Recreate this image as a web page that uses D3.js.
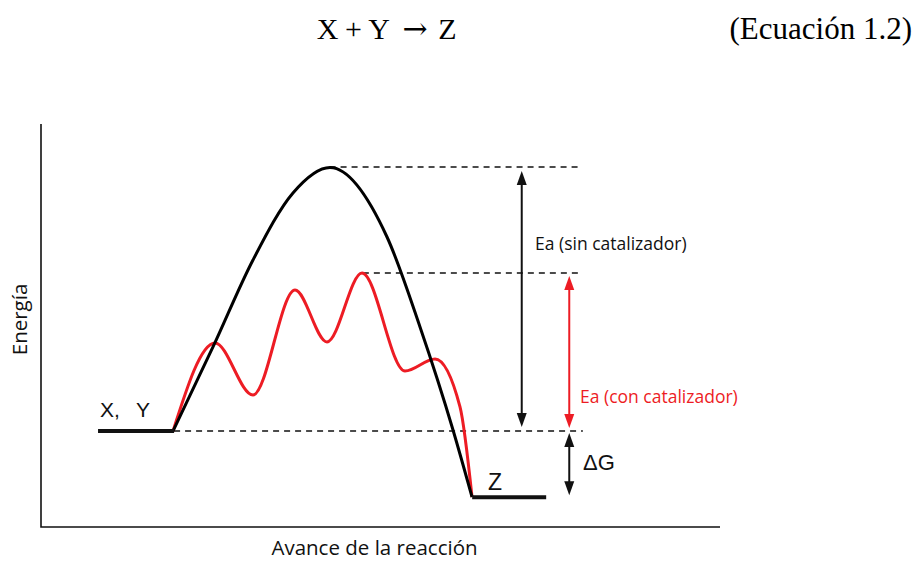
<!DOCTYPE html>
<html><head><meta charset="utf-8">
<script src="https://cdn.jsdelivr.net/npm/d3@7"></script>
<style>html,body{margin:0;padding:0;background:#fff;}svg{display:block;}</style>
</head><body>
<svg id="c" width="916" height="561"></svg>
<script>
// Reaction progress (0-100) vs energy (0-100), schematic values
const uncatalyzed = [
  [19.44,23.8],[25.33,44.67],[31.22,66.25],[37.11,82.88],[42.56,89.2],
  [50.96,71.96],[55.82,49.63],[60.68,24.07],[63.48,7.44]
];
const catalyzed = [
  [19.44,23.8],[25.63,45.66],[31.22,32.75],[37.41,58.81],[42.12,45.91],
  [47.28,63.0],[53.61,38.71],[58.03,41.69],[61.71,29.78],[63.48,7.44]
];
const reactantLevel = {x0:8.4, x1:19.6, e:23.8};
const productLevel = {x0:63.5, x1:74.4, e:7.4};
const peakUncat = {x:42.5, e:89.3};
const peakCat = {x:47.4, e:63.0};
const guideEnd = 79.8;
const arrowX = {sin:70.8, con:77.8, dG:77.8};
const labels = {
  eq:"(Ecuaci\u00f3n 1.2)",
  yAxis:"Energ\u00eda", xAxis:"Avance de la reacci\u00f3n",
  prod:"Z", sin:"Ea (sin catalizador)", con:"Ea (con catalizador)", dG:"\u0394G"
};
const reactParts = [["X,",100],["Y",136]];
const titleParts = [["X",327.5],["+",353.5],["Y",379],["\u2192",415],["Z",447.5]];
const RED = "#ed1c24";

const svg = d3.select("#c");
const x = d3.scaleLinear().domain([0,100]).range([41,720]);
const y = d3.scaleLinear().domain([0,100]).range([527,124]);

const serif = "Liberation Serif, Times New Roman, serif";
// title
svg.selectAll("text.tp").data(titleParts).join("text").attr("class","tp")
  .attr("x",d=>d[1]).attr("y",39).attr("text-anchor","middle")
  .attr("font-family",d=> d[0]==="\u2192" ? "DejaVu Serif, serif" : serif)
  .attr("font-size",30).attr("fill","#000").text(d=>d[0]);
svg.append("text").attr("x",912).attr("y",39).attr("text-anchor","end")
  .attr("font-family",serif).attr("font-size",31).text(labels.eq);

// axes
svg.append("path").attr("d",`M${x(0)},${y(100)}V${y(0)}H${x(100)}`)
  .attr("stroke","#111").attr("stroke-width",1.6).attr("fill","none");

const sans = "Open Sans, Noto Sans, sans-serif";
const arial = "Liberation Sans, Arial, sans-serif";
svg.append("text").attr("transform",`translate(27,${y(51.5)}) rotate(-90)`).attr("text-anchor","middle")
  .attr("font-family",sans).attr("font-size",20.5).attr("fill","#111").text(labels.yAxis);
svg.append("text").attr("x",374.5).attr("y",555).attr("text-anchor","middle")
  .attr("font-family",sans).attr("font-size",20.5).attr("fill","#111").text(labels.xAxis);

// dashed guides
const dash = svg.append("g").attr("stroke","#111").attr("stroke-width",1.5).attr("stroke-dasharray","6,5");
dash.append("line").attr("x1",x(peakUncat.x)).attr("x2",x(guideEnd-0.6)).attr("y1",y(peakUncat.e)).attr("y2",y(peakUncat.e));
dash.append("line").attr("x1",x(peakCat.x)).attr("x2",x(guideEnd)).attr("y1",y(peakCat.e)).attr("y2",y(peakCat.e));
dash.append("line").attr("x1",x(reactantLevel.x1)).attr("x2",x(guideEnd)).attr("y1",y(reactantLevel.e)).attr("y2",y(reactantLevel.e));

// curves
const line = d3.line().x(d=>x(d[0])).y(d=>y(d[1])).curve(d3.curveMonotoneX);
svg.append("path").datum(catalyzed).attr("d",line).attr("fill","none").attr("stroke",RED).attr("stroke-width",3).attr("stroke-linejoin","round");
svg.append("path").datum(uncatalyzed).attr("d",line).attr("fill","none").attr("stroke","#000").attr("stroke-width",3).attr("stroke-linejoin","round");

// levels
svg.append("line").attr("x1",x(reactantLevel.x0)).attr("x2",x(reactantLevel.x1)).attr("y1",y(reactantLevel.e)).attr("y2",y(reactantLevel.e))
  .attr("stroke","#111").attr("stroke-width",4);
svg.append("line").attr("x1",x(productLevel.x0)).attr("x2",x(productLevel.x1)).attr("y1",y(productLevel.e)).attr("y2",y(productLevel.e))
  .attr("stroke","#111").attr("stroke-width",4);

svg.selectAll("text.rp").data(reactParts).join("text").attr("class","rp")
  .attr("x",d=>d[1]).attr("y",417).attr("font-family",arial).attr("font-size",21).attr("fill","#111").text(d=>d[0]);
svg.append("text").attr("x",488).attr("y",490).attr("font-family",arial).attr("font-size",23).attr("fill","#111").text(labels.prod);

// double arrows
function dArrow(xv, e0, e1, color, gap){
  const px = x(xv), ya = y(e0)+gap, yb = y(e1)-gap;
  const g = svg.append("g");
  const hl = 14, hw = 5;
  g.append("line").attr("x1",px).attr("x2",px).attr("y1",ya+hl-2).attr("y2",yb-hl+2).attr("stroke",color).attr("stroke-width",2);
  g.append("path").attr("d",`M${px},${ya}L${px-hw},${ya+hl}L${px+hw},${ya+hl}Z`).attr("fill",color);
  g.append("path").attr("d",`M${px},${yb}L${px-hw},${yb-hl}L${px+hw},${yb-hl}Z`).attr("fill",color);
}
dArrow(arrowX.sin, peakUncat.e, reactantLevel.e, "#111", 4);
dArrow(arrowX.con, peakCat.e, reactantLevel.e, RED, 3);
dArrow(arrowX.dG, reactantLevel.e, productLevel.e, "#111", 2);

svg.append("text").attr("x",535).attr("y",250).attr("font-family",sans).attr("font-size",17.5).attr("fill","#111").text(labels.sin);
svg.append("text").attr("x",580).attr("y",403).attr("font-family",sans).attr("font-size",17.5).attr("fill",RED).text(labels.con);
svg.append("text").attr("x",583).attr("y",470).attr("font-family",arial).attr("font-size",22).attr("fill","#111").text(labels.dG);
</script>
</body></html>
